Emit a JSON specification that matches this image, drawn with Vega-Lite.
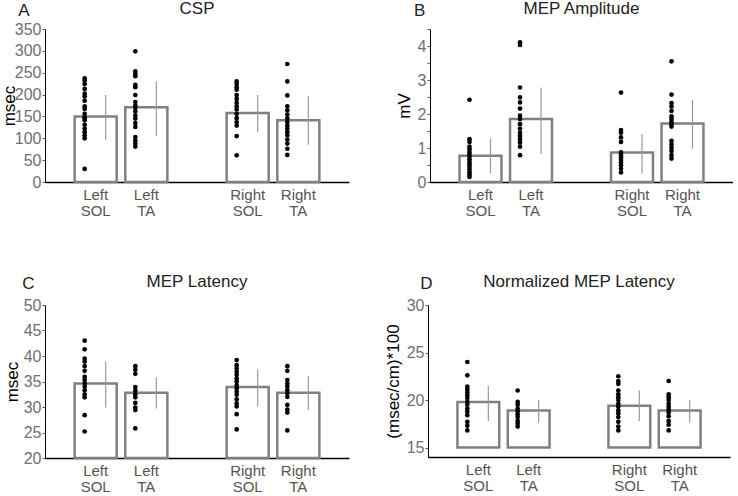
{
  "$schema": "https://vega.github.io/schema/vega-lite/v6.json",
  "background": "white",
  "padding": {"left": 0, "top": 0, "right": 0, "bottom": 0},
  "config": {
    "font": "Liberation Sans",
    "view": {"stroke": null},
    "title": {"fontSize": 17, "fontWeight": "normal", "color": "#222", "font": "Liberation Sans"},
    "axisY": {"grid": false, "domainColor": "black", "tickColor": "#555", "tickSize": 3, "tickCount": 20, "labelColor": "#707070", "labelFontSize": 16, "labelPadding": 1, "labelOverlap": false, "labelBound": false, "titleFontSize": 17, "titleFontWeight": "normal", "titleColor": "black"},
    "axisX": {"title": null, "ticks": false, "domainColor": "black", "domainWidth": 1.5, "labelAngle": 0, "labelExpr": "split(datum.label, ' ')", "labelColor": "#555", "labelFontSize": 15, "labelLineHeight": 16, "labelPadding": 5}
  },
  "datasets": {
    "bars": [
      {"p": "A", "g": "Left SOL", "mean": 150, "lo": 97, "hi": 199},
      {"p": "A", "g": "Left TA", "mean": 171, "lo": 105, "hi": 230},
      {"p": "A", "g": "Right SOL", "mean": 158, "lo": 114, "hi": 199},
      {"p": "A", "g": "Right TA", "mean": 141, "lo": 85, "hi": 196},
      {"p": "B", "g": "Left SOL", "mean": 0.77, "lo": 0.26, "hi": 1.28},
      {"p": "B", "g": "Left TA", "mean": 1.85, "lo": 0.82, "hi": 2.78},
      {"p": "B", "g": "Right SOL", "mean": 0.87, "lo": 0.26, "hi": 1.41},
      {"p": "B", "g": "Right TA", "mean": 1.72, "lo": 0.98, "hi": 2.41},
      {"p": "C", "g": "Left SOL", "mean": 34.6, "lo": 29.9, "hi": 38.9},
      {"p": "C", "g": "Left TA", "mean": 32.8, "lo": 29.7, "hi": 35.8},
      {"p": "C", "g": "Right SOL", "mean": 33.9, "lo": 30.1, "hi": 37.4},
      {"p": "C", "g": "Right TA", "mean": 32.8, "lo": 29.4, "hi": 36.1},
      {"p": "D", "g": "Left SOL", "mean": 19.8, "lo": 17.8, "hi": 21.5},
      {"p": "D", "g": "Left TA", "mean": 18.9, "lo": 17.6, "hi": 20.0},
      {"p": "D", "g": "Right SOL", "mean": 19.4, "lo": 17.8, "hi": 21.0},
      {"p": "D", "g": "Right TA", "mean": 18.9, "lo": 17.6, "hi": 20.0}
    ],
    "pts": [
      {"p": "A", "g": "Left SOL", "v": 237}, {"p": "A", "g": "Left SOL", "v": 232}, {"p": "A", "g": "Left SOL", "v": 224}, {"p": "A", "g": "Left SOL", "v": 213}, {"p": "A", "g": "Left SOL", "v": 202}, {"p": "A", "g": "Left SOL", "v": 196}, {"p": "A", "g": "Left SOL", "v": 186}, {"p": "A", "g": "Left SOL", "v": 173}, {"p": "A", "g": "Left SOL", "v": 167}, {"p": "A", "g": "Left SOL", "v": 156}, {"p": "A", "g": "Left SOL", "v": 148}, {"p": "A", "g": "Left SOL", "v": 145}, {"p": "A", "g": "Left SOL", "v": 141}, {"p": "A", "g": "Left SOL", "v": 131}, {"p": "A", "g": "Left SOL", "v": 122}, {"p": "A", "g": "Left SOL", "v": 114}, {"p": "A", "g": "Left SOL", "v": 107}, {"p": "A", "g": "Left SOL", "v": 100}, {"p": "A", "g": "Left SOL", "v": 30},
      {"p": "A", "g": "Left TA", "v": 299}, {"p": "A", "g": "Left TA", "v": 253}, {"p": "A", "g": "Left TA", "v": 247}, {"p": "A", "g": "Left TA", "v": 242}, {"p": "A", "g": "Left TA", "v": 222}, {"p": "A", "g": "Left TA", "v": 217}, {"p": "A", "g": "Left TA", "v": 199}, {"p": "A", "g": "Left TA", "v": 183}, {"p": "A", "g": "Left TA", "v": 175}, {"p": "A", "g": "Left TA", "v": 169}, {"p": "A", "g": "Left TA", "v": 161}, {"p": "A", "g": "Left TA", "v": 152}, {"p": "A", "g": "Left TA", "v": 145}, {"p": "A", "g": "Left TA", "v": 135}, {"p": "A", "g": "Left TA", "v": 126}, {"p": "A", "g": "Left TA", "v": 103}, {"p": "A", "g": "Left TA", "v": 95}, {"p": "A", "g": "Left TA", "v": 88}, {"p": "A", "g": "Left TA", "v": 81},
      {"p": "A", "g": "Right SOL", "v": 230}, {"p": "A", "g": "Right SOL", "v": 224}, {"p": "A", "g": "Right SOL", "v": 217}, {"p": "A", "g": "Right SOL", "v": 211}, {"p": "A", "g": "Right SOL", "v": 199}, {"p": "A", "g": "Right SOL", "v": 190}, {"p": "A", "g": "Right SOL", "v": 181}, {"p": "A", "g": "Right SOL", "v": 173}, {"p": "A", "g": "Right SOL", "v": 166}, {"p": "A", "g": "Right SOL", "v": 156}, {"p": "A", "g": "Right SOL", "v": 146}, {"p": "A", "g": "Right SOL", "v": 137}, {"p": "A", "g": "Right SOL", "v": 129}, {"p": "A", "g": "Right SOL", "v": 105}, {"p": "A", "g": "Right SOL", "v": 61},
      {"p": "A", "g": "Right TA", "v": 270}, {"p": "A", "g": "Right TA", "v": 230}, {"p": "A", "g": "Right TA", "v": 198}, {"p": "A", "g": "Right TA", "v": 173}, {"p": "A", "g": "Right TA", "v": 164}, {"p": "A", "g": "Right TA", "v": 154}, {"p": "A", "g": "Right TA", "v": 145}, {"p": "A", "g": "Right TA", "v": 137}, {"p": "A", "g": "Right TA", "v": 129}, {"p": "A", "g": "Right TA", "v": 122}, {"p": "A", "g": "Right TA", "v": 114}, {"p": "A", "g": "Right TA", "v": 107}, {"p": "A", "g": "Right TA", "v": 97}, {"p": "A", "g": "Right TA", "v": 88}, {"p": "A", "g": "Right TA", "v": 76}, {"p": "A", "g": "Right TA", "v": 62},
      {"p": "B", "g": "Left SOL", "v": 2.42}, {"p": "B", "g": "Left SOL", "v": 1.26}, {"p": "B", "g": "Left SOL", "v": 1.18}, {"p": "B", "g": "Left SOL", "v": 1.04}, {"p": "B", "g": "Left SOL", "v": 0.96}, {"p": "B", "g": "Left SOL", "v": 0.88}, {"p": "B", "g": "Left SOL", "v": 0.82}, {"p": "B", "g": "Left SOL", "v": 0.75}, {"p": "B", "g": "Left SOL", "v": 0.67}, {"p": "B", "g": "Left SOL", "v": 0.59}, {"p": "B", "g": "Left SOL", "v": 0.52}, {"p": "B", "g": "Left SOL", "v": 0.45}, {"p": "B", "g": "Left SOL", "v": 0.37}, {"p": "B", "g": "Left SOL", "v": 0.29}, {"p": "B", "g": "Left SOL", "v": 0.22}, {"p": "B", "g": "Left SOL", "v": 0.15},
      {"p": "B", "g": "Left TA", "v": 4.11}, {"p": "B", "g": "Left TA", "v": 4.03}, {"p": "B", "g": "Left TA", "v": 2.78}, {"p": "B", "g": "Left TA", "v": 2.49}, {"p": "B", "g": "Left TA", "v": 2.34}, {"p": "B", "g": "Left TA", "v": 2.16}, {"p": "B", "g": "Left TA", "v": 1.95}, {"p": "B", "g": "Left TA", "v": 1.85}, {"p": "B", "g": "Left TA", "v": 1.70}, {"p": "B", "g": "Left TA", "v": 1.57}, {"p": "B", "g": "Left TA", "v": 1.45}, {"p": "B", "g": "Left TA", "v": 1.36}, {"p": "B", "g": "Left TA", "v": 1.26}, {"p": "B", "g": "Left TA", "v": 1.16}, {"p": "B", "g": "Left TA", "v": 1.04}, {"p": "B", "g": "Left TA", "v": 0.79},
      {"p": "B", "g": "Right SOL", "v": 2.63}, {"p": "B", "g": "Right SOL", "v": 1.53}, {"p": "B", "g": "Right SOL", "v": 1.45}, {"p": "B", "g": "Right SOL", "v": 1.31}, {"p": "B", "g": "Right SOL", "v": 1.18}, {"p": "B", "g": "Right SOL", "v": 0.87}, {"p": "B", "g": "Right SOL", "v": 0.79}, {"p": "B", "g": "Right SOL", "v": 0.72}, {"p": "B", "g": "Right SOL", "v": 0.65}, {"p": "B", "g": "Right SOL", "v": 0.57}, {"p": "B", "g": "Right SOL", "v": 0.49}, {"p": "B", "g": "Right SOL", "v": 0.39}, {"p": "B", "g": "Right SOL", "v": 0.28},
      {"p": "B", "g": "Right TA", "v": 3.55}, {"p": "B", "g": "Right TA", "v": 2.57}, {"p": "B", "g": "Right TA", "v": 2.32}, {"p": "B", "g": "Right TA", "v": 2.22}, {"p": "B", "g": "Right TA", "v": 2.09}, {"p": "B", "g": "Right TA", "v": 1.93}, {"p": "B", "g": "Right TA", "v": 1.85}, {"p": "B", "g": "Right TA", "v": 1.77}, {"p": "B", "g": "Right TA", "v": 1.70}, {"p": "B", "g": "Right TA", "v": 1.63}, {"p": "B", "g": "Right TA", "v": 1.21}, {"p": "B", "g": "Right TA", "v": 1.11}, {"p": "B", "g": "Right TA", "v": 1.01}, {"p": "B", "g": "Right TA", "v": 0.91}, {"p": "B", "g": "Right TA", "v": 0.79}, {"p": "B", "g": "Right TA", "v": 0.69},
      {"p": "C", "g": "Left SOL", "v": 43.0}, {"p": "C", "g": "Left SOL", "v": 41.3}, {"p": "C", "g": "Left SOL", "v": 39.5}, {"p": "C", "g": "Left SOL", "v": 38.9}, {"p": "C", "g": "Left SOL", "v": 38.0}, {"p": "C", "g": "Left SOL", "v": 37.1}, {"p": "C", "g": "Left SOL", "v": 35.9}, {"p": "C", "g": "Left SOL", "v": 35.3}, {"p": "C", "g": "Left SOL", "v": 34.6}, {"p": "C", "g": "Left SOL", "v": 34.0}, {"p": "C", "g": "Left SOL", "v": 33.3}, {"p": "C", "g": "Left SOL", "v": 32.5}, {"p": "C", "g": "Left SOL", "v": 31.9}, {"p": "C", "g": "Left SOL", "v": 28.4}, {"p": "C", "g": "Left SOL", "v": 25.2},
      {"p": "C", "g": "Left TA", "v": 38.0}, {"p": "C", "g": "Left TA", "v": 37.3}, {"p": "C", "g": "Left TA", "v": 36.5}, {"p": "C", "g": "Left TA", "v": 33.9}, {"p": "C", "g": "Left TA", "v": 33.2}, {"p": "C", "g": "Left TA", "v": 32.5}, {"p": "C", "g": "Left TA", "v": 31.9}, {"p": "C", "g": "Left TA", "v": 30.8}, {"p": "C", "g": "Left TA", "v": 29.9}, {"p": "C", "g": "Left TA", "v": 29.4}, {"p": "C", "g": "Left TA", "v": 25.8},
      {"p": "C", "g": "Right SOL", "v": 39.2}, {"p": "C", "g": "Right SOL", "v": 38.2}, {"p": "C", "g": "Right SOL", "v": 37.6}, {"p": "C", "g": "Right SOL", "v": 36.9}, {"p": "C", "g": "Right SOL", "v": 36.3}, {"p": "C", "g": "Right SOL", "v": 35.6}, {"p": "C", "g": "Right SOL", "v": 35.0}, {"p": "C", "g": "Right SOL", "v": 34.3}, {"p": "C", "g": "Right SOL", "v": 33.7}, {"p": "C", "g": "Right SOL", "v": 33.0}, {"p": "C", "g": "Right SOL", "v": 32.4}, {"p": "C", "g": "Right SOL", "v": 31.5}, {"p": "C", "g": "Right SOL", "v": 30.7}, {"p": "C", "g": "Right SOL", "v": 30.1}, {"p": "C", "g": "Right SOL", "v": 28.6}, {"p": "C", "g": "Right SOL", "v": 25.6},
      {"p": "C", "g": "Right TA", "v": 38.0}, {"p": "C", "g": "Right TA", "v": 37.1}, {"p": "C", "g": "Right TA", "v": 35.3}, {"p": "C", "g": "Right TA", "v": 34.6}, {"p": "C", "g": "Right TA", "v": 34.0}, {"p": "C", "g": "Right TA", "v": 33.3}, {"p": "C", "g": "Right TA", "v": 32.7}, {"p": "C", "g": "Right TA", "v": 32.0}, {"p": "C", "g": "Right TA", "v": 30.4}, {"p": "C", "g": "Right TA", "v": 29.5}, {"p": "C", "g": "Right TA", "v": 28.9}, {"p": "C", "g": "Right TA", "v": 25.4},
      {"p": "D", "g": "Left SOL", "v": 24.0}, {"p": "D", "g": "Left SOL", "v": 22.6}, {"p": "D", "g": "Left SOL", "v": 21.4}, {"p": "D", "g": "Left SOL", "v": 21.1}, {"p": "D", "g": "Left SOL", "v": 20.8}, {"p": "D", "g": "Left SOL", "v": 20.5}, {"p": "D", "g": "Left SOL", "v": 20.2}, {"p": "D", "g": "Left SOL", "v": 19.8}, {"p": "D", "g": "Left SOL", "v": 19.5}, {"p": "D", "g": "Left SOL", "v": 19.1}, {"p": "D", "g": "Left SOL", "v": 18.8}, {"p": "D", "g": "Left SOL", "v": 18.4}, {"p": "D", "g": "Left SOL", "v": 17.7}, {"p": "D", "g": "Left SOL", "v": 17.3}, {"p": "D", "g": "Left SOL", "v": 16.8},
      {"p": "D", "g": "Left TA", "v": 21.0}, {"p": "D", "g": "Left TA", "v": 19.8}, {"p": "D", "g": "Left TA", "v": 19.5}, {"p": "D", "g": "Left TA", "v": 19.1}, {"p": "D", "g": "Left TA", "v": 18.8}, {"p": "D", "g": "Left TA", "v": 18.5}, {"p": "D", "g": "Left TA", "v": 18.2}, {"p": "D", "g": "Left TA", "v": 17.8}, {"p": "D", "g": "Left TA", "v": 17.5}, {"p": "D", "g": "Left TA", "v": 17.2},
      {"p": "D", "g": "Right SOL", "v": 22.5}, {"p": "D", "g": "Right SOL", "v": 22.0}, {"p": "D", "g": "Right SOL", "v": 21.7}, {"p": "D", "g": "Right SOL", "v": 21.0}, {"p": "D", "g": "Right SOL", "v": 20.6}, {"p": "D", "g": "Right SOL", "v": 20.3}, {"p": "D", "g": "Right SOL", "v": 20.0}, {"p": "D", "g": "Right SOL", "v": 19.6}, {"p": "D", "g": "Right SOL", "v": 19.3}, {"p": "D", "g": "Right SOL", "v": 18.9}, {"p": "D", "g": "Right SOL", "v": 18.6}, {"p": "D", "g": "Right SOL", "v": 18.2}, {"p": "D", "g": "Right SOL", "v": 17.7}, {"p": "D", "g": "Right SOL", "v": 17.2}, {"p": "D", "g": "Right SOL", "v": 16.8},
      {"p": "D", "g": "Right TA", "v": 22.0}, {"p": "D", "g": "Right TA", "v": 20.6}, {"p": "D", "g": "Right TA", "v": 20.3}, {"p": "D", "g": "Right TA", "v": 20.0}, {"p": "D", "g": "Right TA", "v": 19.6}, {"p": "D", "g": "Right TA", "v": 19.3}, {"p": "D", "g": "Right TA", "v": 19.0}, {"p": "D", "g": "Right TA", "v": 18.7}, {"p": "D", "g": "Right TA", "v": 18.3}, {"p": "D", "g": "Right TA", "v": 17.8}, {"p": "D", "g": "Right TA", "v": 17.4}, {"p": "D", "g": "Right TA", "v": 16.8}
    ]
  },
  "spacing": 55,
  "vconcat": [
    {
      "spacing": 46,
      "hconcat": [
        {
          "title": {"text": "A", "anchor": "start", "frame": "bounds", "dx": 18, "offset": -20},
          "hconcat": [
            {
              "width": 304, "height": 153,
              "title": {"text": "CSP", "offset": 3},
              "encoding": {
                "x": {"field": "g", "type": "nominal", "sort": null,
                  "scale": {"domain": ["Left SOL", "Left TA", " ", "Right SOL", "Right TA"], "paddingInner": 0.17, "paddingOuter": 0.585}}
              },
              "layer": [
                {"data": {"name": "bars"}, "transform": [{"filter": "datum.p === 'A'"}],
                 "mark": {"type": "bar", "fill": "white", "stroke": "#808080", "strokeWidth": 2.5},
                 "encoding": {"y": {"field": "mean", "type": "quantitative", "scale": {"domain": [0, 350]},
                   "axis": {"title": "msec", "values": [0, 50, 100, 150, 200, 250, 300, 350], "tickCount": 20, "labelOverlap": false, "titlePadding": -4}},
                   "y2": {"datum": 0}}},
                {"data": {"name": "bars"}, "transform": [{"filter": "datum.p === 'A'"}],
                 "mark": {"type": "rule", "color": "#999", "strokeWidth": 1.2, "xOffset": 10},
                 "encoding": {"y": {"field": "lo", "type": "quantitative",
                   "axis": {"title": "msec", "values": [0, 50, 100, 150, 200, 250, 300, 350], "tickCount": 20, "labelOverlap": false, "titlePadding": -4}}, "y2": {"field": "hi"}}},
                {"data": {"name": "pts"}, "transform": [{"filter": "datum.p === 'A'"}],
                 "mark": {"type": "circle", "color": "black", "size": 22, "opacity": 1, "xOffset": -11},
                 "encoding": {"y": {"field": "v", "type": "quantitative",
                   "axis": {"title": "msec", "values": [0, 50, 100, 150, 200, 250, 300, 350], "tickCount": 20, "labelOverlap": false, "titlePadding": -4}}}}
              ]
            }
          ]
        },
        {
          "title": {"text": "B", "anchor": "start", "frame": "bounds", "dx": 19, "offset": -20},
          "hconcat": [
            {
              "width": 303, "height": 153,
              "title": {"text": "MEP Amplitude", "offset": 3},
              "encoding": {
                "x": {"field": "g", "type": "nominal", "sort": null,
                  "scale": {"domain": ["Left SOL", "Left TA", " ", "Right SOL", "Right TA"], "paddingInner": 0.17, "paddingOuter": 0.585}}
              },
              "layer": [
                {"data": {"name": "bars"}, "transform": [{"filter": "datum.p === 'B'"}],
                 "mark": {"type": "bar", "fill": "white", "stroke": "#808080", "strokeWidth": 2.5},
                 "encoding": {"y": {"field": "mean", "type": "quantitative", "scale": {"domain": [0, 4.5]},
                   "axis": {"title": "mV", "values": [0, 0.5, 1, 1.5, 2, 2.5, 3, 3.5, 4, 4.5], "tickCount": 20, "labelExpr": "datum.value % 1 === 0 ? format(datum.value, 'd') : ''", "labelOverlap": false, "titlePadding": 4}},
                   "y2": {"datum": 0}}},
                {"data": {"name": "bars"}, "transform": [{"filter": "datum.p === 'B'"}],
                 "mark": {"type": "rule", "color": "#999", "strokeWidth": 1.2, "xOffset": 10},
                 "encoding": {"y": {"field": "lo", "type": "quantitative",
                   "axis": {"title": "mV", "values": [0, 0.5, 1, 1.5, 2, 2.5, 3, 3.5, 4, 4.5], "tickCount": 20, "labelExpr": "datum.value % 1 === 0 ? format(datum.value, 'd') : ''", "labelOverlap": false, "titlePadding": 4}}, "y2": {"field": "hi"}}},
                {"data": {"name": "pts"}, "transform": [{"filter": "datum.p === 'B'"}],
                 "mark": {"type": "circle", "color": "black", "size": 22, "opacity": 1, "xOffset": -11},
                 "encoding": {"y": {"field": "v", "type": "quantitative",
                   "axis": {"title": "mV", "values": [0, 0.5, 1, 1.5, 2, 2.5, 3, 3.5, 4, 4.5], "tickCount": 20, "labelExpr": "datum.value % 1 === 0 ? format(datum.value, 'd') : ''", "labelOverlap": false, "titlePadding": 4}}}}
              ]
            }
          ]
        }
      ]
    },
    {
      "spacing": 35,
      "hconcat": [
        {
          "title": {"text": "C", "anchor": "start", "frame": "bounds", "dx": 19, "offset": -20},
          "hconcat": [
            {
              "width": 304, "height": 153,
              "title": {"text": "MEP Latency", "offset": 6},
              "encoding": {
                "x": {"field": "g", "type": "nominal", "sort": null,
                  "scale": {"domain": ["Left SOL", "Left TA", " ", "Right SOL", "Right TA"], "paddingInner": 0.17, "paddingOuter": 0.585}}
              },
              "layer": [
                {"data": {"name": "bars"}, "transform": [{"filter": "datum.p === 'C'"}],
                 "mark": {"type": "bar", "fill": "white", "stroke": "#808080", "strokeWidth": 2.5},
                 "encoding": {"y": {"field": "mean", "type": "quantitative", "scale": {"domain": [20, 50]},
                   "axis": {"title": "msec", "values": [20, 25, 30, 35, 40, 45, 50], "tickCount": 20, "labelOverlap": false, "titlePadding": 2}},
                   "y2": {"datum": 20}}},
                {"data": {"name": "bars"}, "transform": [{"filter": "datum.p === 'C'"}],
                 "mark": {"type": "rule", "color": "#999", "strokeWidth": 1.2, "xOffset": 10},
                 "encoding": {"y": {"field": "lo", "type": "quantitative",
                   "axis": {"title": "msec", "values": [20, 25, 30, 35, 40, 45, 50], "tickCount": 20, "labelOverlap": false, "titlePadding": 2}}, "y2": {"field": "hi"}}},
                {"data": {"name": "pts"}, "transform": [{"filter": "datum.p === 'C'"}],
                 "mark": {"type": "circle", "color": "black", "size": 22, "opacity": 1, "xOffset": -11},
                 "encoding": {"y": {"field": "v", "type": "quantitative",
                   "axis": {"title": "msec", "values": [20, 25, 30, 35, 40, 45, 50], "tickCount": 20, "labelOverlap": false, "titlePadding": 2}}}}
              ]
            }
          ]
        },
        {
          "title": {"text": "D", "anchor": "start", "frame": "bounds", "dx": 36, "offset": -20},
          "hconcat": [
            {
              "width": 302, "height": 152,
              "title": {"text": "Normalized MEP Latency", "offset": 6},
              "encoding": {
                "x": {"field": "g", "type": "nominal", "sort": null,
                  "scale": {"domain": ["Left SOL", "Left TA", " ", "Right SOL", "Right TA"], "paddingInner": 0.17, "paddingOuter": 0.585}}
              },
              "layer": [
                {"data": {"name": "bars"}, "transform": [{"filter": "datum.p === 'D'"}],
                 "mark": {"type": "bar", "fill": "white", "stroke": "#808080", "strokeWidth": 2.5},
                 "encoding": {"y": {"field": "mean", "type": "quantitative", "scale": {"domain": [15, 30]},
                   "axis": {"title": "(msec/cm)*100", "values": [15, 20, 25, 30], "tickCount": 20, "labelOverlap": false, "titlePadding": 4}},
                   "y2": {"datum": 15}}},
                {"data": {"name": "bars"}, "transform": [{"filter": "datum.p === 'D'"}],
                 "mark": {"type": "rule", "color": "#999", "strokeWidth": 1.2, "xOffset": 10},
                 "encoding": {"y": {"field": "lo", "type": "quantitative",
                   "axis": {"title": "(msec/cm)*100", "values": [15, 20, 25, 30], "tickCount": 20, "labelOverlap": false, "titlePadding": 4}}, "y2": {"field": "hi"}}},
                {"data": {"name": "pts"}, "transform": [{"filter": "datum.p === 'D'"}],
                 "mark": {"type": "circle", "color": "black", "size": 22, "opacity": 1, "xOffset": -11},
                 "encoding": {"y": {"field": "v", "type": "quantitative",
                   "axis": {"title": "(msec/cm)*100", "values": [15, 20, 25, 30], "tickCount": 20, "labelOverlap": false, "titlePadding": 4}}}}
              ]
            }
          ]
        }
      ]
    }
  ]
}
